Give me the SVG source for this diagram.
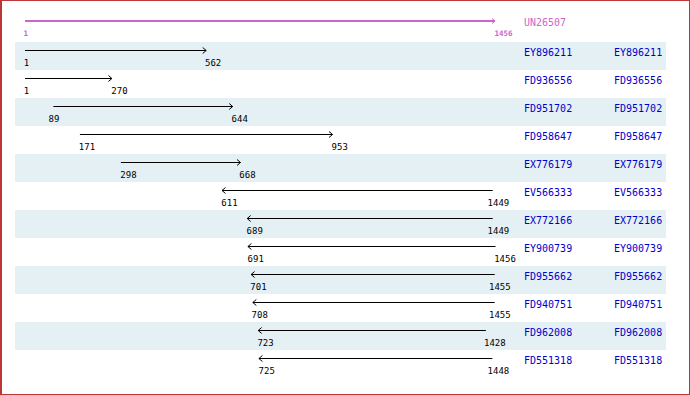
<svg xmlns="http://www.w3.org/2000/svg" width="690" height="396" viewBox="0 0 690 396">
<style>
.bg{fill:#ffffff}
.stripe{fill:#e4f0f4}
.ln{stroke:#000;stroke-width:1;fill:none}
.hd{stroke:#cc66cc;stroke-width:2;fill:none}
.num{font-family:"DejaVu Sans Mono","Liberation Mono",monospace;font-size:9px;fill:#000}
.hnum{font-family:"DejaVu Sans Mono","Liberation Mono",monospace;font-size:7.5px;fill:#cc66cc;font-weight:bold}
.lab{font-family:"DejaVu Sans Mono","Liberation Mono",monospace;font-size:10px;fill:#0000cc}
.hlab{font-family:"DejaVu Sans Mono","Liberation Mono",monospace;font-size:10px;fill:#cc66cc}
</style>
<defs>
<marker id="ah" markerUnits="userSpaceOnUse" markerWidth="10" markerHeight="10" viewBox="-5 -5 10 10" refX="0" refY="0" orient="auto">
<path d="M-3.5,-3 L0,0 L-3.5,3" stroke="#000" stroke-width="1" fill="none"/>
</marker>
<marker id="ahp" markerUnits="userSpaceOnUse" markerWidth="10" markerHeight="10" viewBox="-5 -5 10 10" refX="0" refY="0" orient="auto">
<path d="M-3,-2.5 L0,0 L-3,2.5" stroke="#cc66cc" stroke-width="1" fill="none"/>
</marker>
</defs>
<rect class="bg" x="0" y="0" width="690" height="396"/>
<g id="stripes">
<rect class="stripe" x="15" y="42" width="651" height="28"/>
<rect class="stripe" x="15" y="98" width="651" height="28"/>
<rect class="stripe" x="15" y="154" width="651" height="28"/>
<rect class="stripe" x="15" y="210" width="651" height="28"/>
<rect class="stripe" x="15" y="266" width="651" height="28"/>
<rect class="stripe" x="15" y="322" width="651" height="28"/>
</g>
<g id="connectors">
<line class="hd" x1="25" y1="21" x2="495" y2="21" marker-end="url(#ahp)"/>
<line class="ln" x1="25" y1="50.5" x2="206.2" y2="50.5" marker-end="url(#ah)"/>
<line class="ln" x1="25" y1="78.5" x2="111.9" y2="78.5" marker-end="url(#ah)"/>
<line class="ln" x1="53.4" y1="106.5" x2="232.7" y2="106.5" marker-end="url(#ah)"/>
<line class="ln" x1="79.9" y1="134.5" x2="332.5" y2="134.5" marker-end="url(#ah)"/>
<line class="ln" x1="120.9" y1="162.5" x2="240.5" y2="162.5" marker-end="url(#ah)"/>
<line class="ln" x1="492.7" y1="190.5" x2="222" y2="190.5" marker-end="url(#ah)"/>
<line class="ln" x1="492.7" y1="218.5" x2="247.2" y2="218.5" marker-end="url(#ah)"/>
<line class="ln" x1="495.5" y1="246.5" x2="247.9" y2="246.5" marker-end="url(#ah)"/>
<line class="ln" x1="494.7" y1="274.5" x2="251.1" y2="274.5" marker-end="url(#ah)"/>
<line class="ln" x1="494.7" y1="302.5" x2="252.8" y2="302.5" marker-end="url(#ah)"/>
<line class="ln" x1="485.9" y1="330.5" x2="258.2" y2="330.5" marker-end="url(#ah)"/>
<line class="ln" x1="492.4" y1="358.5" x2="258.9" y2="358.5" marker-end="url(#ah)"/>
</g>
<g id="UN26507">
<text class="hnum" x="23.5" y="36">1</text>
<text class="hnum" x="494.5" y="36">1456</text>
<text class="hlab" x="524" y="26">UN26507</text>
</g>
<g id="EY896211">
<text class="num" x="23.8" y="66">1</text>
<text class="num" x="205" y="66">562</text>
<text class="lab" x="524" y="56">EY896211</text>
<text class="lab" x="614" y="56">EY896211</text>
</g>
<g id="FD936556">
<text class="num" x="23.8" y="94">1</text>
<text class="num" x="111.3" y="94">270</text>
<text class="lab" x="524" y="84">FD936556</text>
<text class="lab" x="614" y="84">FD936556</text>
</g>
<g id="FD951702">
<text class="num" x="48.6" y="122">89</text>
<text class="num" x="231.6" y="122">644</text>
<text class="lab" x="524" y="112">FD951702</text>
<text class="lab" x="614" y="112">FD951702</text>
</g>
<g id="FD958647">
<text class="num" x="78.8" y="150">171</text>
<text class="num" x="331.6" y="150">953</text>
<text class="lab" x="524" y="140">FD958647</text>
<text class="lab" x="614" y="140">FD958647</text>
</g>
<g id="EX776179">
<text class="num" x="120.3" y="178">298</text>
<text class="num" x="239.3" y="178">668</text>
<text class="lab" x="524" y="168">EX776179</text>
<text class="lab" x="614" y="168">EX776179</text>
</g>
<g id="EV566333">
<text class="num" x="221.3" y="206">611</text>
<text class="num" x="487.6" y="206">1449</text>
<text class="lab" x="524" y="196">EV566333</text>
<text class="lab" x="614" y="196">EV566333</text>
</g>
<g id="EX772166">
<text class="num" x="246.6" y="234">689</text>
<text class="num" x="487.6" y="234">1449</text>
<text class="lab" x="524" y="224">EX772166</text>
<text class="lab" x="614" y="224">EX772166</text>
</g>
<g id="EY900739">
<text class="num" x="247.6" y="262">691</text>
<text class="num" x="494.2" y="262">1456</text>
<text class="lab" x="524" y="252">EY900739</text>
<text class="lab" x="614" y="252">EY900739</text>
</g>
<g id="FD955662">
<text class="num" x="250.3" y="290">701</text>
<text class="num" x="489" y="290">1455</text>
<text class="lab" x="524" y="280">FD955662</text>
<text class="lab" x="614" y="280">FD955662</text>
</g>
<g id="FD940751">
<text class="num" x="251.6" y="318">708</text>
<text class="num" x="489" y="318">1455</text>
<text class="lab" x="524" y="308">FD940751</text>
<text class="lab" x="614" y="308">FD940751</text>
</g>
<g id="FD962008">
<text class="num" x="257.4" y="346">723</text>
<text class="num" x="484" y="346">1428</text>
<text class="lab" x="524" y="336">FD962008</text>
<text class="lab" x="614" y="336">FD962008</text>
</g>
<g id="FD551318">
<text class="num" x="258.6" y="374">725</text>
<text class="num" x="487.6" y="374">1448</text>
<text class="lab" x="524" y="364">FD551318</text>
<text class="lab" x="614" y="364">FD551318</text>
</g>
<g id="frame" fill="#c03535">
<rect x="0" y="0" width="690" height="1"/>
<rect x="0" y="0" width="2" height="395"/>
<rect x="689" y="0" width="1" height="395"/>
<rect x="0" y="394" width="690" height="1.3"/>
</g>
</svg>
